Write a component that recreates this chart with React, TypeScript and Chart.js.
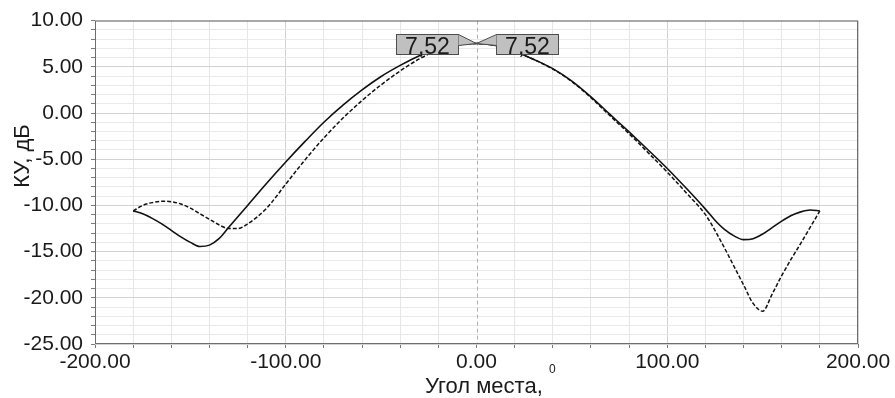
import React, { useEffect, useRef } from 'react';
import { Chart, registerables } from 'chart.js';

Chart.register(...registerables);

// ---- data ----
const angles = [
  -180, -175, -170, -165, -160, -155, -150, -145, -140, -135, -130, -125, -120,
  -110, -100, -90, -80, -70, -60, -50, -40, -30, -20, -10,
  0,
  10, 20, 30, 40, 50, 60, 70, 80, 90, 100, 110,
  120, 125, 130, 135, 140, 145, 150, 155, 160, 165, 170, 175, 180,
];

const solidKU = [
  -10.6, -10.9, -11.4, -12.0, -12.7, -13.4, -14.0, -14.45, -14.3, -13.6, -12.4, -11.2, -10.0,
  -7.6, -5.3, -3.1, -1.0, 0.85, 2.5, 3.95, 5.15, 6.2, 6.95, 7.38,
  7.52,
  7.3, 6.65, 5.8, 4.8, 3.45, 1.75, -0.15, -2.05, -4.0, -6.0, -8.15,
  -10.4, -11.6, -12.6, -13.3, -13.7, -13.6, -13.1, -12.4, -11.7, -11.1, -10.7, -10.5, -10.6,
];

const dashedKU = [
  -10.6, -10.0, -9.7, -9.55, -9.6, -9.85, -10.3, -10.9, -11.5, -12.1, -12.5, -12.5, -12.0,
  -10.3, -7.7, -5.1, -2.7, -0.55, 1.35, 3.05, 4.55, 5.85, 6.8, 7.35,
  7.52,
  7.3, 6.65, 5.8, 4.75, 3.4, 1.65, -0.3, -2.25, -4.3, -6.4, -8.65,
  -11.0, -12.7, -14.6, -16.6, -18.6, -20.6, -21.45, -19.6, -17.6, -15.8, -14.1, -12.35, -10.6,
];

const peakAngle = 0;
const peakValue = 7.52;
const peakLabels = ['7,52', '7,52'];

const xMajorValues = [-200, -100, 0, 100, 200];
const xTickLabels = ['-200.00', '-100.00', '0.00', '100.00', '200.00'];
const yMajorValues = [10, 5, 0, -5, -10, -15, -20, -25];
const yTickLabels = ['10.00', '5.00', '0.00', '-5.00', '-10.00', '-15.00', '-20.00', '-25.00'];

const xTitle = 'Угол места, ';
const xTitleSup = '0';
const yTitle = 'КУ, дБ';

const FONT = '"Liberation Sans", Arial, sans-serif';

const decorPlugin = {
  id: 'decor',
  beforeDatasetsDraw(chart: any) {
    const { ctx, chartArea: a, scales } = chart;
    const x0 = Math.round(scales.x.getPixelForValue(0)) + 0.5;
    ctx.save();
    ctx.strokeStyle = '#b0b0b0';
    ctx.lineWidth = 1;
    ctx.setLineDash([4, 3]);
    ctx.beginPath();
    ctx.moveTo(x0, a.top);
    ctx.lineTo(x0, a.bottom);
    ctx.stroke();
    ctx.setLineDash([]);
    ctx.strokeStyle = '#6e6e6e';
    ctx.strokeRect(a.left + 0.5, a.top + 0.5, a.right - a.left - 1, a.bottom - a.top - 1);
    ctx.restore();
  },
  afterDatasetsDraw(chart: any) {
    const { ctx, scales } = chart;
    const ax = scales.x.getPixelForValue(peakAngle);
    const ay = scales.y.getPixelForValue(peakValue);
    const bw = 62, bh = 20, gap = 19;
    ctx.save();
    [-1, 1].forEach((side, i) => {
      const bx = side < 0 ? ax - gap - bw : ax + gap;
      const by = Math.round(ay - bh / 2) + 0.5;
      const rx = Math.round(bx) + 0.5;
      const ex = side < 0 ? rx + bw : rx;
      ctx.fillStyle = '#c0c0c0';
      ctx.strokeStyle = '#4d4d4d';
      ctx.lineWidth = 1;
      ctx.fillRect(rx, by, bw, bh);
      ctx.strokeRect(rx, by, bw, bh);
      ctx.beginPath();
      ctx.moveTo(ex, by);
      ctx.lineTo(ax, ay);
      ctx.lineTo(ex, by + bh * 0.55);
      ctx.closePath();
      ctx.fill();
      ctx.beginPath();
      ctx.moveTo(ex, by);
      ctx.lineTo(ax, ay);
      ctx.lineTo(ex, by + bh * 0.55);
      ctx.stroke();
      ctx.fillStyle = '#1a1a1a';
      ctx.font = `23px ${FONT}`;
      ctx.textAlign = 'center';
      ctx.textBaseline = 'alphabetic';
      ctx.fillText(peakLabels[i], rx + bw / 2, by + bh - 0.5);
    });
    ctx.restore();
  },
  afterDraw(chart: any) {
    const { ctx } = chart;
    ctx.save();
    ctx.fillStyle = '#1a1a1a';
    ctx.font = `22px ${FONT}`;
    ctx.textAlign = 'left';
    ctx.textBaseline = 'alphabetic';
    const tx = 425;
    ctx.fillText(xTitle, tx, 393);
    const w = ctx.measureText(xTitle).width;
    ctx.font = `12px ${FONT}`;
    ctx.fillText(xTitleSup, tx + w, 373);
    ctx.translate(23, 156);
    ctx.rotate(-Math.PI / 2);
    ctx.font = `22px ${FONT}`;
    ctx.textAlign = 'center';
    ctx.textBaseline = 'middle';
    ctx.fillText(yTitle, 0, 0);
    ctx.restore();
  },
};

export default function App() {
  const canvasRef = useRef<HTMLCanvasElement | null>(null);

  useEffect(() => {
    if (!canvasRef.current) return;
    const chart = new Chart(canvasRef.current, {
      type: 'line',
      data: {
        datasets: [
          {
            label: 'solid',
            data: angles.map((a, i) => ({ x: a, y: solidKU[i] })),
            borderColor: '#111',
            borderWidth: 1.6,
            pointRadius: 0,
            fill: false,
            cubicInterpolationMode: 'monotone',
          },
          {
            label: 'dashed',
            data: angles.map((a, i) => ({ x: a, y: dashedKU[i] })),
            borderColor: '#111',
            borderWidth: 1.5,
            borderDash: [4, 2],
            pointRadius: 0,
            fill: false,
            cubicInterpolationMode: 'monotone',
          },
        ],
      },
      options: {
        animation: false,
        responsive: true,
        maintainAspectRatio: false,
        layout: { padding: { top: 18, right: 37, left: 0, bottom: 0 } },
        plugins: {
          legend: { display: false },
          tooltip: { enabled: false },
          title: { display: false },
        },
        scales: {
          x: {
            type: 'linear',
            min: -200,
            max: 200,
            afterFit: (s: any) => { s.height = 54; },
            ticks: {
              stepSize: 20,
              autoSkip: false,
              maxRotation: 0,
              padding: 2,
              color: '#1a1a1a',
              font: { family: FONT, size: 21 },
              callback: (v: any) => {
                const i = xMajorValues.indexOf(Number(v));
                return i >= 0 ? xTickLabels[i] : '';
              },
            },
            grid: {
              color: (c: any) => {
                const v = c.tick ? c.tick.value : 0;
                if (v === 0) return 'rgba(0,0,0,0)';
                return v % 100 === 0 ? '#d2d2d2' : '#e6e6e6';
              },
              tickColor: '#7a7a7a',
              tickLength: 4,
            },
            border: { display: false },
          },
          y: {
            type: 'linear',
            min: -25,
            max: 10,
            afterFit: (s: any) => { s.width = 95; },
            ticks: {
              stepSize: 1,
              autoSkip: false,
              padding: 8,
              color: '#1a1a1a',
              font: { family: FONT, size: 21 },
              callback: (v: any) => {
                const i = yMajorValues.indexOf(Number(v));
                return i >= 0 ? yTickLabels[i] : '';
              },
            },
            grid: {
              color: (c: any) => {
                const v = c.tick ? c.tick.value : 0;
                return v % 5 === 0 ? '#d2d2d2' : '#e9e9e9';
              },
              tickColor: '#7a7a7a',
              tickLength: 4,
            },
            border: { display: false },
          },
        },
      },
      plugins: [decorPlugin],
    });
    return () => chart.destroy();
  }, []);

  return (
    <div style={{ position: 'absolute', left: 0, top: 0, width: 895, height: 398, background: '#fff' }}>
      <canvas ref={canvasRef} />
    </div>
  );
}
